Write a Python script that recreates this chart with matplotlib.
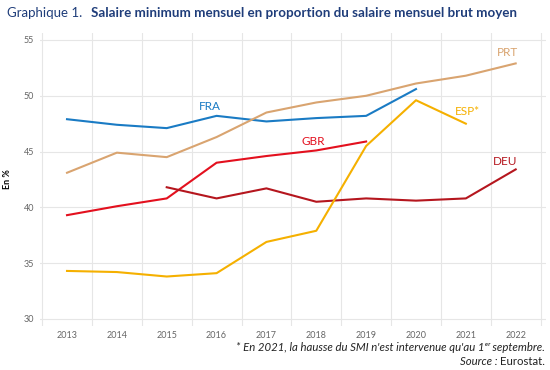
import numpy as np
import matplotlib.pyplot as plt
from matplotlib.ticker import MultipleLocator

plt.rcParams['font.family'] = ['Lato', 'DejaVu Sans']

# Données (en % du salaire mensuel brut moyen)
annees = [2013, 2014, 2015, 2016, 2017, 2018, 2019, 2020, 2021, 2022]
fra = [47.9, 47.4, 47.1, 48.2, 47.7, 48.0, 48.2, 50.6]
prt = [43.1, 44.9, 44.5, 46.3, 48.5, 49.4, 50.0, 51.1, 51.8, 52.9]
gbr = [39.3, 40.1, 40.8, 44.0, 44.6, 45.1, 45.9]
deu = [41.8, 40.8, 41.7, 40.5, 40.8, 40.6, 40.8, 43.4]
esp = [34.3, 34.2, 33.8, 34.1, 36.9, 37.9, 45.5, 49.6, 47.5]

series = [
    # nom, annees, valeurs, couleur, position du libellé (x, y)
    ('FRA', annees[:8], fra, '#1a7bc4', (2015.64, 49.0)),
    ('PRT', annees, prt, '#d9a470', (2021.62, 53.9)),
    ('GBR', annees[:7], gbr, '#e3101e', (2017.7, 45.9)),
    ('DEU', annees[2:], deu, '#b5161e', (2021.54, 44.1)),
    ('ESP*', annees[:9], esp, '#f5b000', (2020.78, 48.6)),
]

fig = plt.figure(figsize=(5.5, 3.7), dpi=100)
ax = fig.add_axes([0.072, 0.12, 0.92, 0.79])

for nom, x, y, c, pos in series:
    ax.plot(x, y, color=c, lw=1.5)
    ax.text(pos[0], pos[1], nom, color=c, fontsize=8.5, ha='left', va='center')

ax.set_xlim(2012.45, 2022.6)
ax.set_ylim(29.4, 55.6)
ax.set_xticks(annees)
ax.set_xticklabels([str(a) for a in annees])
ax.xaxis.set_minor_locator(MultipleLocator(1, offset=0.5))
ax.yaxis.set_major_locator(MultipleLocator(5))
ax.grid(True, which='minor', axis='x', color='#e6e6e6', lw=0.8)
ax.grid(True, which='major', axis='y', color='#e6e6e6', lw=0.8)
ax.tick_params(which='both', length=0, labelsize=6.5, labelcolor='#666666', pad=4)
for s in ax.spines.values():
    s.set_visible(False)
ax.set_ylabel('En %', fontsize=6.5, fontweight='bold')
ax.yaxis.set_label_coords(-0.055, 0.5)

fig.text(0.013, 0.965, 'Graphique 1.', color='#1f3d7a', fontsize=9.5, va='center')
fig.text(0.165, 0.965, 'Salaire minimum mensuel en proportion du salaire mensuel brut moyen',
         color='#1f3d7a', fontsize=9.6, fontweight='bold', va='center')

fig.text(0.99, 0.062, "* En 2021, la hausse du SMI n'est intervenue qu'au 1ᵉʳ septembre.",
         ha='right', va='center', fontsize=8.2, style='italic', color='#222222')

# "Source :" en italique, "Eurostat." en romain
t_src = fig.text(0.99, 0.024, 'Eurostat.', ha='right', va='center', fontsize=8.2,
                 color='#222222')
r = fig.canvas.get_renderer()
bb = t_src.get_window_extent(renderer=r)
fig.text(bb.x0 / fig.bbox.width - 0.004, 0.024, 'Source :', ha='right', va='center',
         fontsize=8.2, style='italic', color='#222222')

fig.savefig('out.png', dpi=100)
